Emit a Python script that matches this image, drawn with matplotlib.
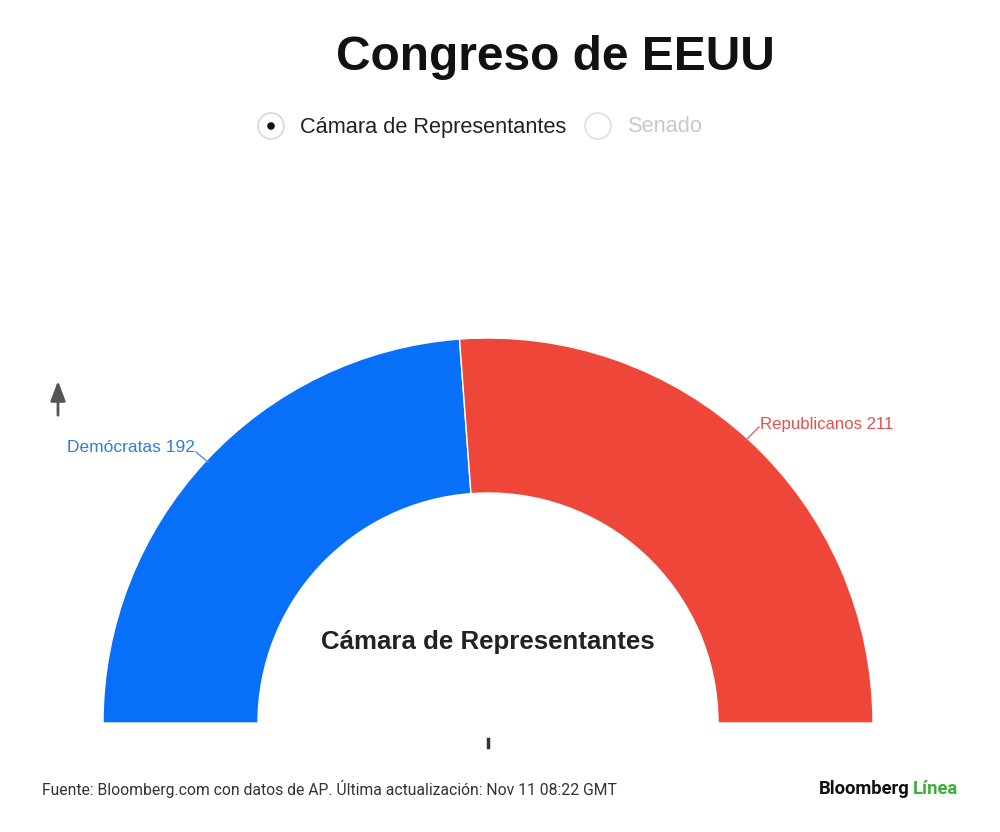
import matplotlib.pyplot as plt
from matplotlib.patches import Wedge, Circle

# data
parties = ["Demócratas", "Republicanos"]
seats = [192, 211]
colors = ["#0870F8", "#EE4638"]
label_colors = ["#2F7FD6", "#E0544A"]

title = "Congreso de EEUU"
chamber_options = ["Cámara de Representantes", "Senado"]
center_label = "Cámara de Representantes"
source = "Fuente: Bloomberg.com con datos de AP. Última actualización: Nov 11 08:22 GMT"

W, H = 1000, 832
fig = plt.figure(figsize=(W / 100, H / 100), dpi=100)
ax = fig.add_axes([0, 0, 1, 1])
ax.set_xlim(0, W)
ax.set_ylim(0, H)
ax.set_aspect("equal")
ax.axis("off")


def py(y):
    # pixel row -> data y
    return H - y


fam = ["Liberation Sans", "DejaVu Sans"]

# title
ax.text(555, py(57), title, ha="center", va="center", fontsize=34.5,
        fontweight="bold", family=fam, color="#111111")

# radio buttons
ax.add_patch(Circle((271, py(126)), 13, facecolor="white", edgecolor="#d8d8d8", lw=1.2))
ax.add_patch(Circle((271, py(126)), 3.8, facecolor="#111111", edgecolor="none"))
ax.text(300, py(127), chamber_options[0], ha="left", va="center", fontsize=15.7,
        family=fam, color="#222222")
ax.add_patch(Circle((598, py(126)), 13, facecolor="white", edgecolor="#e0e0e0", lw=1.2))
ax.text(628, py(127), chamber_options[1], ha="left", va="center", fontsize=15.7,
        family=fam, color="#c8c8c8")

# semicircle
cx, cy = 488, py(723)
r_out, r_in = 385, 230
total = sum(seats)
split = 180 - seats[0] / total * 180
ax.add_patch(Wedge((cx, cy), r_out, split, 180, width=r_out - r_in,
                   facecolor=colors[0], edgecolor="white", lw=1))
ax.add_patch(Wedge((cx, cy), r_out, 0, split, width=r_out - r_in,
                   facecolor=colors[1], edgecolor="white", lw=1))

# labels with leader lines
ax.plot([196, 208], [py(452), py(462)], color="#5a8fc8", lw=1)
ax.text(195, py(448), f"{parties[0]} {seats[0]}", ha="right", va="center",
        fontsize=12.5, family=fam, color=label_colors[0])
ax.plot([745, 759], [py(441), py(427)], color="#d86a62", lw=1)
ax.text(760, py(425), f"{parties[1]} {seats[1]}", ha="left", va="center",
        fontsize=12.1, family=fam, color=label_colors[1])

# center label and majority tick
ax.text(cx, py(642), center_label, ha="center", va="center", fontsize=18.6,
        fontweight="bold", family=fam, color="#222222")
ax.plot([cx, cx], [py(739), py(747)], color="#333333", lw=2.5)

# arrow
ax.annotate("", xy=(58, py(378)), xytext=(58, py(418)),
            arrowprops=dict(arrowstyle="-|>,head_width=0.45,head_length=1.2",
                            color="#555555", lw=2))

# footer
ax.text(42, py(789), source, ha="left", va="center", fontsize=11.3,
        family=["Roboto", "DejaVu Sans"], color="#333333")
ax.text(910, py(789), "Bloomberg", ha="right", va="center", fontsize=13.2,
        fontweight="bold", family=["Roboto", "DejaVu Sans"], color="#111111")
ax.text(913, py(789), "Línea", ha="left", va="center", fontsize=13.2,
        fontweight="bold", family=["Roboto", "DejaVu Sans"], color="#3DAE3A")

fig.savefig("out.png", dpi=100, facecolor="white")
